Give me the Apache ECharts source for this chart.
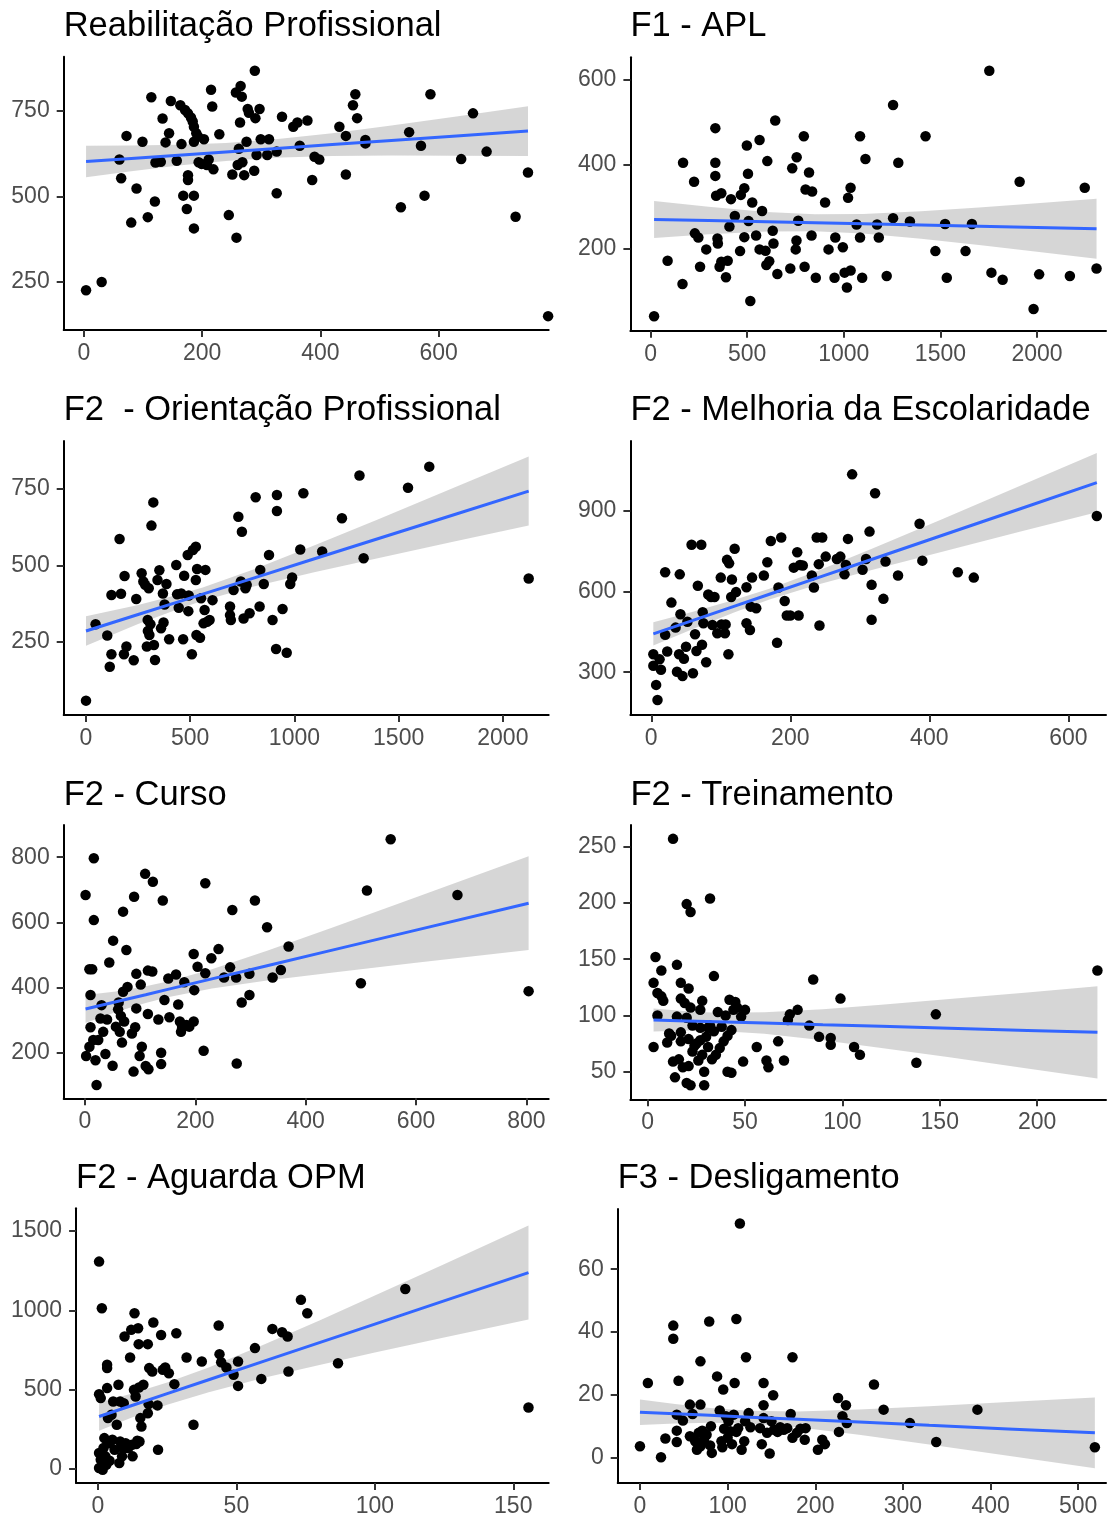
<!DOCTYPE html>
<html><head><meta charset="utf-8">
<script src="https://cdn.jsdelivr.net/npm/echarts@6/dist/echarts.min.js"></script>
<style>html,body{margin:0;padding:0;background:#fff}#c{width:1109px;height:1518px}</style>
</head><body><div id="c"></div>
<script>
// ---------- Panel titles ----------
const TITLES = ['Reabilitação Profissional', 'F1 - APL', 'F2  - Orientação Profissional', 'F2 - Melhoria da Escolaridade',
                'F2 - Curso', 'F2 - Treinamento', 'F2 - Aguarda OPM', 'F3 - Desligamento'];

// ---------- Tick labels ----------
const P1_XTICKS = [0, 200, 400, 600];          const P1_YTICKS = [250, 500, 750];
const P2_XTICKS = [0, 500, 1000, 1500, 2000];  const P2_YTICKS = [200, 400, 600];
const P3_XTICKS = [0, 500, 1000, 1500, 2000];  const P3_YTICKS = [250, 500, 750];
const P4_XTICKS = [0, 200, 400, 600];          const P4_YTICKS = [300, 600, 900];
const P5_XTICKS = [0, 200, 400, 600, 800];     const P5_YTICKS = [200, 400, 600, 800];
const P6_XTICKS = [0, 50, 100, 150, 200];      const P6_YTICKS = [50, 100, 150, 200, 250];
const P7_XTICKS = [0, 50, 100, 150];           const P7_YTICKS = [0, 500, 1000, 1500];
const P8_XTICKS = [0, 100, 200, 300, 400, 500];const P8_YTICKS = [0, 20, 40, 60];

// ---------- Scatter data ----------
const P1_X = [3.6,30,60,63,72,80,89,99,108,114,120,121,130,133,138,144,147,157,163,165,168,171,174,176,176,176,181,184,186,186,186,186,190,193,194,199,203,208,211,215,217,219,229,245,251,257,258,260,262,264,265,267,268,271,275,277,279,288,289,290,292,297,299,310,313,326,326,335,354,361,365,378,386,390,398,432,443,443,455,459,462,476,476,536,550,570,576,586,638,658,681,730,751,785];
const P1_Y = [225,249,608,553,677,423,523,660,439,790,485,599,601,728,658,685,779,604,767,653,502,753,463,548,562,743,731,719,502,406,704,660,685,675,600,595,667,592,608,812,763,579,682,445,564,804,379,592,639,716,823,792,600,562,660,756,745,575,868,729,621,756,667,621,667,509,631,733,704,716,648,722,548,616,608,704,677,564,767,799,729,665,655,468,688,648,502,799,609,743,631,440,570,149];

const P2_X = [18,88,165,168,225,229,247,256,288,335,335,335,339,346,348,357,366,366,390,399,416,436,408,463,467,485,485,498,504,507,516,526,546,564,564,577,595,599,604,614,632,636,645,656,723,733,751,755,756,764,793,797,802,820,833,836,855,903,921,952,956,995,1004,1016,1022,1035,1035,1066,1084,1084,1095,1112,1172,1181,1222,1255,1255,1282,1342,1423,1474,1524,1533,1630,1663,1753,1764,1822,1910,1982,2011,2170,2247,2308];
const P2_Y = [41,172,117,404,359,237,227,158,199,486,404,373,326,225,213,158,332,170,133,172,318,278,253,195,328,344,228,445,378,266,77,310,232,458,199,290,196,162,408,171,243,213,504,141,154,391,199,220,417,267,467,158,341,381,232,336,132,310,199,132,227,204,144,109,321,345,149,258,467,227,132,413,258,227,136,541,273,404,265,467,195,259,132,195,259,622,144,127,359,58,140,136,345,154];

const P3_X = [0,46,102,114,122,122,161,168,182,185,194,229,241,267,275,284,292,296,297,301,304,309,314,323,326,331,343,352,360,369,372,377,386,399,433,437,445,457,466,471,488,491,493,508,513,527,527,530,533,547,552,569,573,564,581,593,607,691,691,695,708,731,743,748,756,765,771,785,814,833,836,853,878,895,912,916,916,943,963,980,989,1028,1043,1133,1228,1312,1332,1545,1647,2124];
const P3_Y = [57,307,270,168,209,403,586,407,209,465,234,189,390,474,447,436,234,321,285,425,272,307,630,706,239,190,452,484,294,408,313,372,439,258,501,405,361,408,258,466,534,350,401,209,550,561,452,272,488,263,392,354,485,310,315,321,386,365,337,321,419,659,447,610,326,425,436,343,723,365,485,439,534,321,226,730,678,357,214,439,460,552,736,545,654,794,523,754,823,457];

const P4_X = [3,3,7,9,12,14,20,20,23,29,35,37,40,41,42,45,47,50,52,58,60,63,65,67,72,73,74,75,79,82,86,88,91,95,100,101,106,107,109,111,112,115,116,120,122,137,137,142,143,145,151,162,167,172,181,183,187,192,195,200,205,210,212,214,218,231,234,238,241,242,246,251,267,272,278,280,283,289,304,309,314,317,317,322,334,337,355,386,390,441,464,641];
const P4_Y = [367,324,253,197,348,309,672,439,377,559,466,302,367,664,516,286,350,395,488,774,296,441,379,622,774,402,523,482,337,589,580,476,580,445,652,478,445,478,718,367,705,580,645,759,598,616,482,457,544,652,538,660,709,788,410,615,801,565,511,511,689,746,511,699,697,660,615,801,702,474,801,730,721,730,664,699,796,1036,681,721,823,625,495,966,573,712,660,852,715,672,652,881];

const P5_X = [1,2,8,8,10,10,13,15,16,16,19,21,24,28,30,33,37,40,44,50,51,56,60,61,63,65,67,69,69,71,75,77,85,88,89,91,93,93,99,101,103,109,110,114,114,115,122,123,133,138,138,141,144,151,153,165,169,172,174,176,180,184,189,197,197,198,204,215,218,218,229,242,252,263,267,274,275,284,298,298,308,330,340,355,369,500,511,554,675,804];
const P5_Y = [684,190,456,218,377,278,456,239,797,607,177,101,239,305,346,264,196,302,477,160,544,280,333,354,264,313,231,387,633,296,515,402,259,142,679,278,442,336,190,409,218,749,159,452,319,149,449,725,302,200,165,667,362,428,309,440,348,296,264,280,416,285,280,296,503,392,464,206,720,444,490,518,431,462,638,431,167,354,442,377,667,585,431,454,526,413,698,855,684,389];

const P6_X = [3,3,4,5,5,7,7,8,10,11,12,13,13,14,15,15,16,17,17,17,17,18,19,20,20,20,21,21,21,22,22,22,23,23,24,25,26,27,27,27,28,28,29,29,30,31,31,32,32,33,34,34,35,36,37,38,39,40,41,41,42,43,43,44,45,46,48,49,50,56,61,62,67,70,72,73,77,83,85,88,94,94,99,106,109,138,148,231];
const P6_Y = [72,129,152,120,100,140,117,113,76,84,82,257,59,45,145,99,61,77,129,115,85,54,111,199,98,40,79,55,124,192,38,107,91,68,73,75,60,105,78,89,65,113,50,38,81,89,72,204,91,61,135,86,65,103,71,90,77,100,50,82,114,49,87,105,112,107,99,59,105,72,60,54,77,60,96,101,105,91,132,81,80,74,115,72,65,58,101,140];

const P7_X = [0.4,0.4,0.4,0.4,1,1,1.4,1.7,2,2.3,3,3.3,3.3,3.3,3.6,3.6,4.2,4.9,5.5,6,6.8,7.4,7.7,8,8,9,9.3,9.6,10,10.6,11.6,12,12.3,12.5,13,13.2,13.6,13.8,14.2,14.5,14.7,14.8,15,15.3,15.7,16.4,18,18,18.3,18.5,19.6,20,21.5,21.7,22.8,23.4,24.3,25.6,27.6,28.3,32,34.5,37.5,43.6,43.9,44.5,46.4,49,50.6,50.6,56.7,59,63,66.5,68.5,68.8,73.3,75.6,86.7,111,155.5,1.4,2.7,4.2,5.2,11,8.7];
const P7_Y = [1307,472,101,6,447,59,1013,-4,132,195,27,636,657,510,174,321,163,342,426,122,279,531,38,426,174,132,415,835,163,132,703,877,153,80,499,982,457,157,178,887,787,514,174,321,268,531,787,352,409,636,615,923,401,122,845,625,640,604,535,856,703,279,678,904,724,673,640,594,678,524,762,568,883,862,835,615,1066,982,667,1135,388,94,80,52,184,136,80];

const P8_X = [0,9,24,29,38,38,42,42,42,44,49,57,57,60,63,65,67,69,69,69,71,73,76,79,80,81,82,88,91,93,94,95,96,98,100,101,103,105,107,108,110,110,112,114,116,119,120,121,124,126,137,139,141,141,141,145,148,150,152,153,157,160,164,168,172,174,174,179,183,188,189,203,208,211,226,227,231,235,236,267,278,308,338,385,519];
const P8_Y = [3.5,23.7,0,6,42,37.8,13.6,8.5,4.9,24.4,11.7,6.7,16.8,13.8,5.1,2.4,7.8,30.6,16.8,3.5,8.5,5.6,7.2,43.3,3.8,9.9,1.4,25.8,14.9,5.1,3.2,21.6,9.1,13.1,6.2,11.5,8.3,4.2,13.6,23.7,8.1,44.1,9.3,74.6,2.4,5.1,11.5,31.9,14.1,9.6,9.3,4.2,23.7,16.6,12.5,7.8,1.2,11.5,19.8,8.8,8.1,9.6,8.8,9.3,13.8,6.2,31.9,7.8,9.1,5.6,9.3,2.4,5.6,4.2,18.9,8.1,13.1,16.6,10.9,23.2,15.2,10.9,4.9,15.2,3.2];

// ---------- Fitted line and confidence band ----------
const P1_FX = [3.6,80,160,240,320,420,520,630,751];
const P1_FY = [602,611.1,620.6,630.1,639.7,651.5,663.5,676.6,691];
const P1_LO = [556,573.6,590.3,603.8,612.7,617.9,619.5,619.2,618];
const P1_HI = [648,648.6,650.9,656.4,666.7,685.1,707.5,734,764];
const P2_FX = [18,300,600,850,1100,1400,1700,2000,2308];
const P2_FY = [270,267.3,264.4,262,259.6,256.7,253.9,251,248];
const P2_LO = [226.3,234.7,241.2,242,236.4,224.1,209.4,193.7,177];
const P2_HI = [313.7,299.9,287.6,282,282.8,289.3,298.4,308.3,319];
const P3_FX = [0,250,450,560,800,1100,1400,1750,2124];
const P3_FY = [285,338.9,382,405.8,457.5,522.2,586.9,662.4,743];
const P3_LO = [237,307.8,358.7,383.8,429.7,478.1,523.4,575.3,630];
const P3_HI = [333,370,405.3,427.8,485.3,566.3,650.4,749.5,856];
const P4_FX = [3,60,120,170,240,320,420,530,641];
const P4_FY = [443,493.2,546.1,590.1,651.8,722.2,810.3,907.2,1005];
const P4_LO = [399.7,461,523,570.1,626.1,682.4,749.5,822.1,895];
const P4_HI = [486.3,525.4,569.2,610.1,677.5,762,871.1,992.3,1115];
const P5_FX = [1,60,110,150,230,330,450,600,804];
const P5_FY = [334,357.9,378.1,394.3,426.7,467.1,515.7,576.4,659];
const P5_LO = [291,327,352.6,370.3,397.1,421.3,446.3,475.8,515];
const P5_HI = [377,388.8,403.6,418.3,456.3,512.9,585.1,677,803];
const P6_FX = [3,20,35,60,90,120,155,195,231];
const P6_FY = [96,95.2,94.5,93.3,91.8,90.4,88.7,86.7,85];
const P6_LO = [85.7,86.6,86.5,83.8,78,71.2,62.8,52.9,44];
const P6_HI = [106.3,103.8,102.5,102.8,105.6,109.6,114.6,120.5,126];
const P7_FX = [0.4,12,25,40,60,80,100,125,155.5];
const P7_FY = [331,398.8,474.9,562.6,679.5,796.5,913.5,1059.7,1238];
const P7_LO = [242,322.6,404.3,484.6,575,656.3,733.8,828.4,942];
const P7_HI = [420,475,545.5,640.6,784,936.7,1093.2,1291,1534];
const P8_FX = [0,40,80,125,180,250,330,420,519];
const P8_FY = [14.4,13.89,13.38,12.81,12.11,11.22,10.2,9.06,7.8];
const P8_LO = [10.34,10.77,11.01,10.81,9.58,7.16,4.08,0.5,-3.5];
const P8_HI = [18.46,17.01,15.75,14.81,14.64,15.28,16.32,17.62,19.1];

// ---------- Layout (pixels) and axis extents ----------
const PANELS = [
  {x:P1_X,y:P1_Y,fx:P1_FX,fy:P1_FY,lo:P1_LO,hi:P1_HI,xt:P1_XTICKS,yt:P1_YTICKS,L:63.7,T:56.7,R:548.7,B:330,  xr:[-34.2,786], yr:[108.4,909], tt:9},
  {x:P2_X,y:P2_Y,fx:P2_FX,fy:P2_FY,lo:P2_LO,hi:P2_HI,xt:P2_XTICKS,yt:P2_YTICKS,L:630.4,T:57.3,R:1106,B:330.7, xr:[-104.6,2357], yr:[6.6,653.7], tt:9},
  {x:P3_X,y:P3_Y,fx:P3_FX,fy:P3_FY,lo:P3_LO,hi:P3_HI,xt:P3_XTICKS,yt:P3_YTICKS,L:63.7,T:441,R:548.7,B:715,    xr:[-107,2220], yr:[10,907], tt:393},
  {x:P4_X,y:P4_Y,fx:P4_FX,fy:P4_FY,lo:P4_LO,hi:P4_HI,xt:P4_XTICKS,yt:P4_YTICKS,L:630.4,T:441,R:1106,B:715,     xr:[-30,654.2], yr:[141,1160], tt:393},
  {x:P5_X,y:P5_Y,fx:P5_FX,fy:P5_FY,lo:P5_LO,hi:P5_HI,xt:P5_XTICKS,yt:P5_YTICKS,L:63.7,T:825,R:548.7,B:1098.3,  xr:[-38.6,840.4], yr:[60,899], tt:778},
  {x:P6_X,y:P6_Y,fx:P6_FX,fy:P6_FY,lo:P6_LO,hi:P6_HI,xt:P6_XTICKS,yt:P6_YTICKS,L:630.4,T:825,R:1106,B:1099.3,  xr:[-8.9,235.4], yr:[25.5,269.3], tt:778},
  {x:P7_X,y:P7_Y,fx:P7_FX,fy:P7_FY,lo:P7_LO,hi:P7_HI,xt:P7_XTICKS,yt:P7_YTICKS,L:76.1,T:1208.3,R:548.7,B:1483.3, xr:[-7.9,162.8], yr:[-88,1643], tt:1161},
  {x:P8_X,y:P8_Y,fx:P8_FX,fy:P8_FY,lo:P8_LO,hi:P8_HI,xt:P8_XTICKS,yt:P8_YTICKS,L:617.7,T:1209,R:1106,B:1483.3,  xr:[-25.4,531.7], yr:[-8.2,79.2], tt:1161}
];

const FONT = '"Liberation Sans", Arial, sans-serif';
const plain = v => String(v);
const grid = [], xAxis = [], yAxis = [], series = [], title = [];
PANELS.forEach((p, i) => {
  grid.push({left: p.L, top: p.T, width: p.R - p.L, height: p.B - p.T, containLabel: false});
  title.push({text: TITLES[i], left: p.L, top: p.tt, padding: 0,
    textStyle: {fontSize: 34.5, fontWeight: 'normal', color: '#000', fontFamily: FONT}});
  const lineS = {show: true, onZero: false, lineStyle: {color: '#000', width: 2}};
  const lab = m => ({fontSize: 23, color: '#4D4D4D', fontFamily: FONT, margin: m, formatter: plain});
  xAxis.push({type: 'value', gridIndex: i, min: p.xr[0], max: p.xr[1], axisLine: lineS,
    axisTick: {show: true, length: 7, customValues: p.xt, lineStyle: {color: '#333', width: 2}},
    axisLabel: Object.assign(lab(12), {customValues: p.xt}), splitLine: {show: false}});
  yAxis.push({type: 'value', gridIndex: i, min: p.yr[0], max: p.yr[1], axisLine: lineS,
    axisTick: {show: true, length: 7, customValues: p.yt, lineStyle: {color: '#333', width: 2}},
    axisLabel: Object.assign(lab(14), {customValues: p.yt}), splitLine: {show: false}});
  // points
  series.push({type: 'scatter', xAxisIndex: i, yAxisIndex: i, symbolSize: 10.5, silent: true,
    itemStyle: {color: '#000', opacity: 1}, data: p.x.map((v, j) => [v, p.y[j]])});
  // confidence band (drawn over the points, like ggplot)
  series.push({type: 'custom', xAxisIndex: i, yAxisIndex: i, silent: true,
    data: [[p.fx[0], p.fy[0]]],
    renderItem: (params, api) => {
      const pts = [];
      for (let j = 0; j < p.fx.length; j++) pts.push(api.coord([p.fx[j], p.hi[j]]));
      for (let j = p.fx.length - 1; j >= 0; j--) pts.push(api.coord([p.fx[j], p.lo[j]]));
      return {type: 'polygon', shape: {points: pts}, style: {fill: 'rgba(153,153,153,0.4)', stroke: null}};
    }});
  // fitted line
  series.push({type: 'line', xAxisIndex: i, yAxisIndex: i, symbol: 'none', silent: true,
    lineStyle: {color: '#3366FF', width: 3}, data: p.fx.map((v, j) => [v, p.fy[j]])});
});

const chart = echarts.init(document.getElementById('c'), null, {renderer: 'canvas'});
chart.setOption({animation: false, backgroundColor: '#fff', title, grid, xAxis, yAxis, series});
</script></body></html>
